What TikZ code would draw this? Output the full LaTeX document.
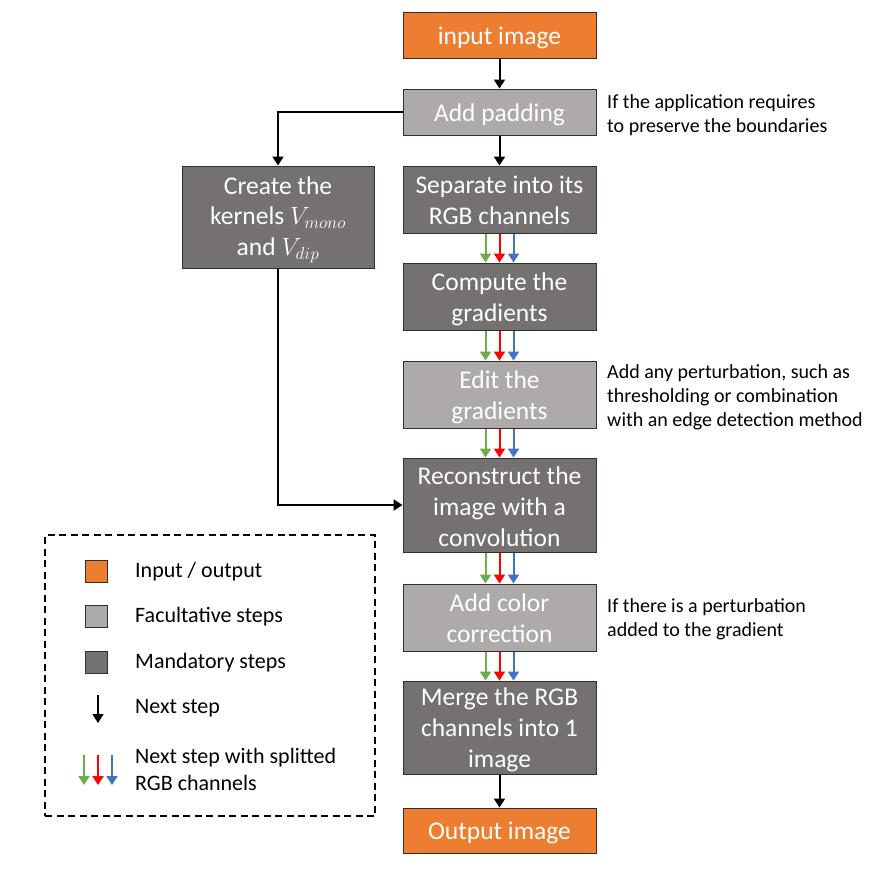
\documentclass[tikz,border=0pt]{standalone}
\usepackage{fontspec}
\setmainfont{Carlito}
\usetikzlibrary{arrows.meta,positioning}
\definecolor{ioC}{HTML}{ED7D31}
\definecolor{facC}{HTML}{AEAAAA}
\definecolor{manC}{HTML}{767171}
\definecolor{gC}{HTML}{70AD47}
\definecolor{rC}{HTML}{FF0000}
\definecolor{bC}{HTML}{4472C4}
\definecolor{edgeC}{HTML}{2F2F2F}
\tikzset{
  box/.style={draw=edgeC, line width=1pt, inner sep=0pt, minimum width=193pt},
  iobox/.style={box, fill=ioC},
  facbox/.style={box, fill=facC},
  manbox/.style={box, fill=manC},
  boxtext/.style={text=white, align=center, inner sep=0pt, font=\fontsize{25.5}{30.8}\selectfont},
  blk/.style={line width=2pt, -{Triangle[width=11pt,length=9pt]}},
  rgb/.style={line width=2pt, -{Triangle[width=11pt,length=9pt]}},
  note/.style={anchor=north west, align=left, inner sep=0pt, font=\fontsize{20}{24}\selectfont},
  legtext/.style={anchor=west, align=left, inner sep=0pt, font=\fontsize{22}{27}\selectfont},
  legsq/.style={draw=edgeC, line width=1pt, minimum size=22pt, inner sep=0pt},
}
\begin{document}
\begin{tikzpicture}[x=1pt,y=-1pt]
\useasboundingbox (0,0) rectangle (882,868);
% main column
\node[iobox, minimum height=46pt] (in) at (499.5,35) {};
\node[facbox, minimum height=46pt] (pad) at (499.5,112) {};
\node[manbox, minimum height=67pt] (sep) at (499.5,199.5) {};
\node[manbox, minimum height=67pt] (grad) at (499.5,296.5) {};
\node[facbox, minimum height=67pt] (edit) at (499.5,394.5) {};
\node[manbox, minimum height=94pt] (rec) at (499.5,505) {};
\node[facbox, minimum height=67pt] (col) at (499.5,617.5) {};
\node[manbox, minimum height=93pt] (mer) at (499.5,727.5) {};
\node[iobox, minimum height=45pt] (out) at (499.5,830.5) {};
\node[manbox, minimum width=192pt, minimum height=102pt] (ker) at (278,217) {};
% box texts
\node[boxtext] (in-t) at ([yshift=-3pt]in.center) {input image};
\node[boxtext] (pad-t) at ([yshift=-3pt]pad.center) {Add padding};
\node[boxtext] (sep-t) at ([yshift=-1pt]sep.center) {Separate into its\\RGB channels};
\node[boxtext] (grad-t) at ([yshift=-2.5pt]grad.center) {Compute the\\gradients};
\node[boxtext] (edit-t) at ([yshift=-2.5pt]edit.center) {Edit the\\gradients};
\node[boxtext] (rec-t) at ([yshift=-2pt]rec.center) {Reconstruct the\\image with a\\convolution};
\node[boxtext] (col-t) at ([yshift=-0.5pt]col.center) {Add color\\correction};
\node[boxtext] (mer-t) at ([yshift=-2.5pt]mer.center) {Merge the RGB\\channels into 1\\image};
\node[boxtext] (out-t) at ([yshift=-2pt]out.center) {Output image};
\node[boxtext] (ker-t) at ([yshift=-2.5pt]ker.center) {Create the\\kernels $V_{mono}$\\and $V_{dip}$};
% notes
\node[note] (n1) at (607,94) {If the application requires\\to preserve the boundaries};
\node[note] (n2) at (607,364) {Add any perturbation, such as\\thresholding or combination\\with an edge detection method};
\node[note] (n3) at (607,598) {If there is a perturbation\\added to the gradient};
% black arrows
\draw[blk] (in) -- (pad);
\draw[blk] (pad) -- (sep);
\draw[blk] (pad.west) -| (ker.north);
\coordinate (kb) at (ker.south |- rec.west);
\draw[blk] (ker.south) -- (kb) -- (rec.west);
\draw[blk] (mer) -- (out);
% rgb arrows
\foreach \a/\b in {sep/grad, grad/edit, edit/rec, rec/col, col/mer}{
  \draw[rgb, gC] ([xshift=-14pt]\a.south) -- ([xshift=-14pt]\b.north);
  \draw[rgb, rC] (\a.south) -- (\b.north);
  \draw[rgb, bC] ([xshift=14pt]\a.south) -- ([xshift=14pt]\b.north);
}
% legend
\node[draw=black, dash pattern=on 7pt off 4.5pt, line width=2pt, minimum width=330pt, minimum height=281pt, inner sep=0pt] (leg) at (210,675.5) {};
\node[legsq, fill=ioC] (s1) at (96,571) {};
\node[legsq, fill=facC] (s2) at (96,616.5) {};
\node[legsq, fill=manC] (s3) at (96,662) {};
\node[legtext] (t1) at (135,572) {Input / output};
\node[legtext] (t2) at (135,617) {Facultative steps};
\node[legtext] (t3) at (135,663) {Mandatory steps};
\node[legtext] (t4) at (135,708) {Next step};
\node[legtext] (t5) at (135,769) {Next step with splitted\\RGB channels};
\coordinate (la1) at (98,695);
\coordinate (la2) at (98,723);
\draw[blk, line width=1.5pt] (la1) -- (la2);
\coordinate (lg1) at (84,755); \coordinate (lg2) at (84,785);
\coordinate (lr1) at (98,755); \coordinate (lr2) at (98,785);
\coordinate (lb1) at (112,755); \coordinate (lb2) at (112,785);
\draw[rgb, gC] (lg1) -- (lg2);
\draw[rgb, rC] (lr1) -- (lr2);
\draw[rgb, bC] (lb1) -- (lb2);
\end{tikzpicture}
\end{document}
